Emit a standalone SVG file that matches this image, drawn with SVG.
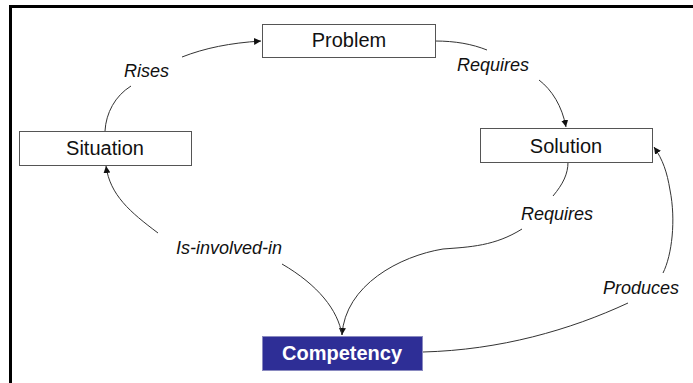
<svg xmlns="http://www.w3.org/2000/svg" width="693" height="383" viewBox="0 0 693 383">
<defs>
<marker id="arr" markerUnits="userSpaceOnUse" markerWidth="8" markerHeight="8" refX="7" refY="3.5" orient="auto">
<path d="M0,0 L7,3.5 L0,7 Z" fill="#111"/>
</marker>
<style>
.box{fill:#fff;stroke:#555;stroke-width:1}
.nt{font-family:"Liberation Sans",Arial,sans-serif;font-size:20px;fill:#111;text-anchor:middle}
.lb{font-family:"Liberation Sans",Arial,sans-serif;font-size:18px;font-style:italic;fill:#111}
.c{fill:none;stroke:#333;stroke-width:1}
.ce{fill:none;stroke:#333;stroke-width:1;marker-end:url(#arr)}
</style>
</defs>
<rect width="693" height="383" fill="#fff"/>
<path d="M10.5,383 L10.5,6.5 L693,6.5" fill="none" stroke="#000" stroke-width="3"/>
<g id="connectors">
<path class="c" d="M105,131 C106,113 115,96 131,86"/>
<path class="ce" d="M182,57 C205,48 230,43 261,41"/>
<path class="c" d="M435,41 C455,41 472,44 487,50"/>
<path class="ce" d="M539,80 C552,90 562,106 566,127"/>
<path class="c" d="M568,162 C568,174 563,184 553,196"/>
<path class="ce" d="M522,229 C495,246 470,247 443,249 C400,256 345,285 342,335"/>
<path class="c" d="M342,335 C338,310 318,285 282,264"/>
<path class="ce" d="M158,233 C130,212 110,195 106,166"/>
<path class="c" d="M423,352 C500,350 570,330 628,303"/>
<path class="ce" d="M663,273 C672,255 676,220 670,190 C667,172 663,160 654,147"/>
<text class="lb" x="124" y="77">Rises</text>
<text class="lb" x="457" y="71">Requires</text>
<text class="lb" x="521" y="220">Requires</text>
<text class="lb" x="176" y="254">Is-involved-in</text>
<text class="lb" x="603" y="294">Produces</text>
</g>
<g id="problem">
<rect class="box" x="262.5" y="24.5" width="173" height="33"/>
<text class="nt" x="349" y="47">Problem</text>
</g>
<g id="situation">
<rect class="box" x="19.5" y="131.5" width="172" height="34"/>
<text class="nt" x="105" y="155">Situation</text>
</g>
<g id="solution">
<rect class="box" x="480.5" y="128.5" width="172" height="34"/>
<text class="nt" x="566" y="153">Solution</text>
</g>
<g id="competency">
<rect x="262.5" y="336.5" width="160" height="34" fill="#2E2E96" stroke="#8a8ac0" stroke-width="1"/>
<text class="nt" x="342" y="360" style="font-weight:bold;fill:#fff">Competency</text>
</g>
</svg>
